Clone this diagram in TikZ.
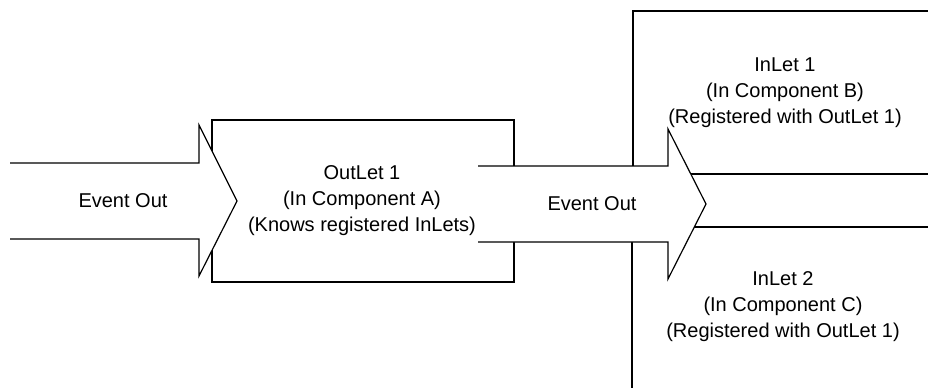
\documentclass[tikz,border=0pt]{standalone}
\usepackage{fontspec}
\setmainfont{Liberation Sans}
\usepackage{tikz}
\tikzset{
  comp/.style={draw,line width=0.6pt,fill=white},
  blk/.style={draw,line width=0.6pt,fill=white,line join=miter},
  lbl/.style={align=center,font=\fontsize{10pt}{13pt}\selectfont,inner sep=0pt},
}
\begin{document}
\begin{tikzpicture}[x=0.5pt,y=-0.5pt]
\useasboundingbox (0,0) rectangle (928,387);
\clip (0,0) rectangle (928,387);
% components
\draw[comp] (212,120) rectangle (514,282);
\draw[comp] (633,11) rectangle (960,174);
\draw[comp] (632,227) rectangle (960,420);
\node[lbl] (outA) at (362,201) {OutLet 1\\(In Component A)\\(Knows registered InLets)};
\node[lbl] (inB) at (785,93) {InLet 1\\(In Component B)\\(Registered with OutLet 1)};
\node[lbl] (inC) at (783,307) {InLet 2\\(In Component C)\\(Registered with OutLet 1)};
% event arrows, open tail
\draw[blk] (10,163) -- (199,163) -- (199,125) -- (237,201) -- (199,276) -- (199,239) -- (10,239);
\draw[blk] (478,166) -- (668,166) -- (668,129) -- (706,204) -- (668,279) -- (668,242) -- (478,242);
\node[lbl] (evIn) at (123,201) {Event Out};
\node[lbl] (evOut) at (592,204) {Event Out};
\end{tikzpicture}
\end{document}
